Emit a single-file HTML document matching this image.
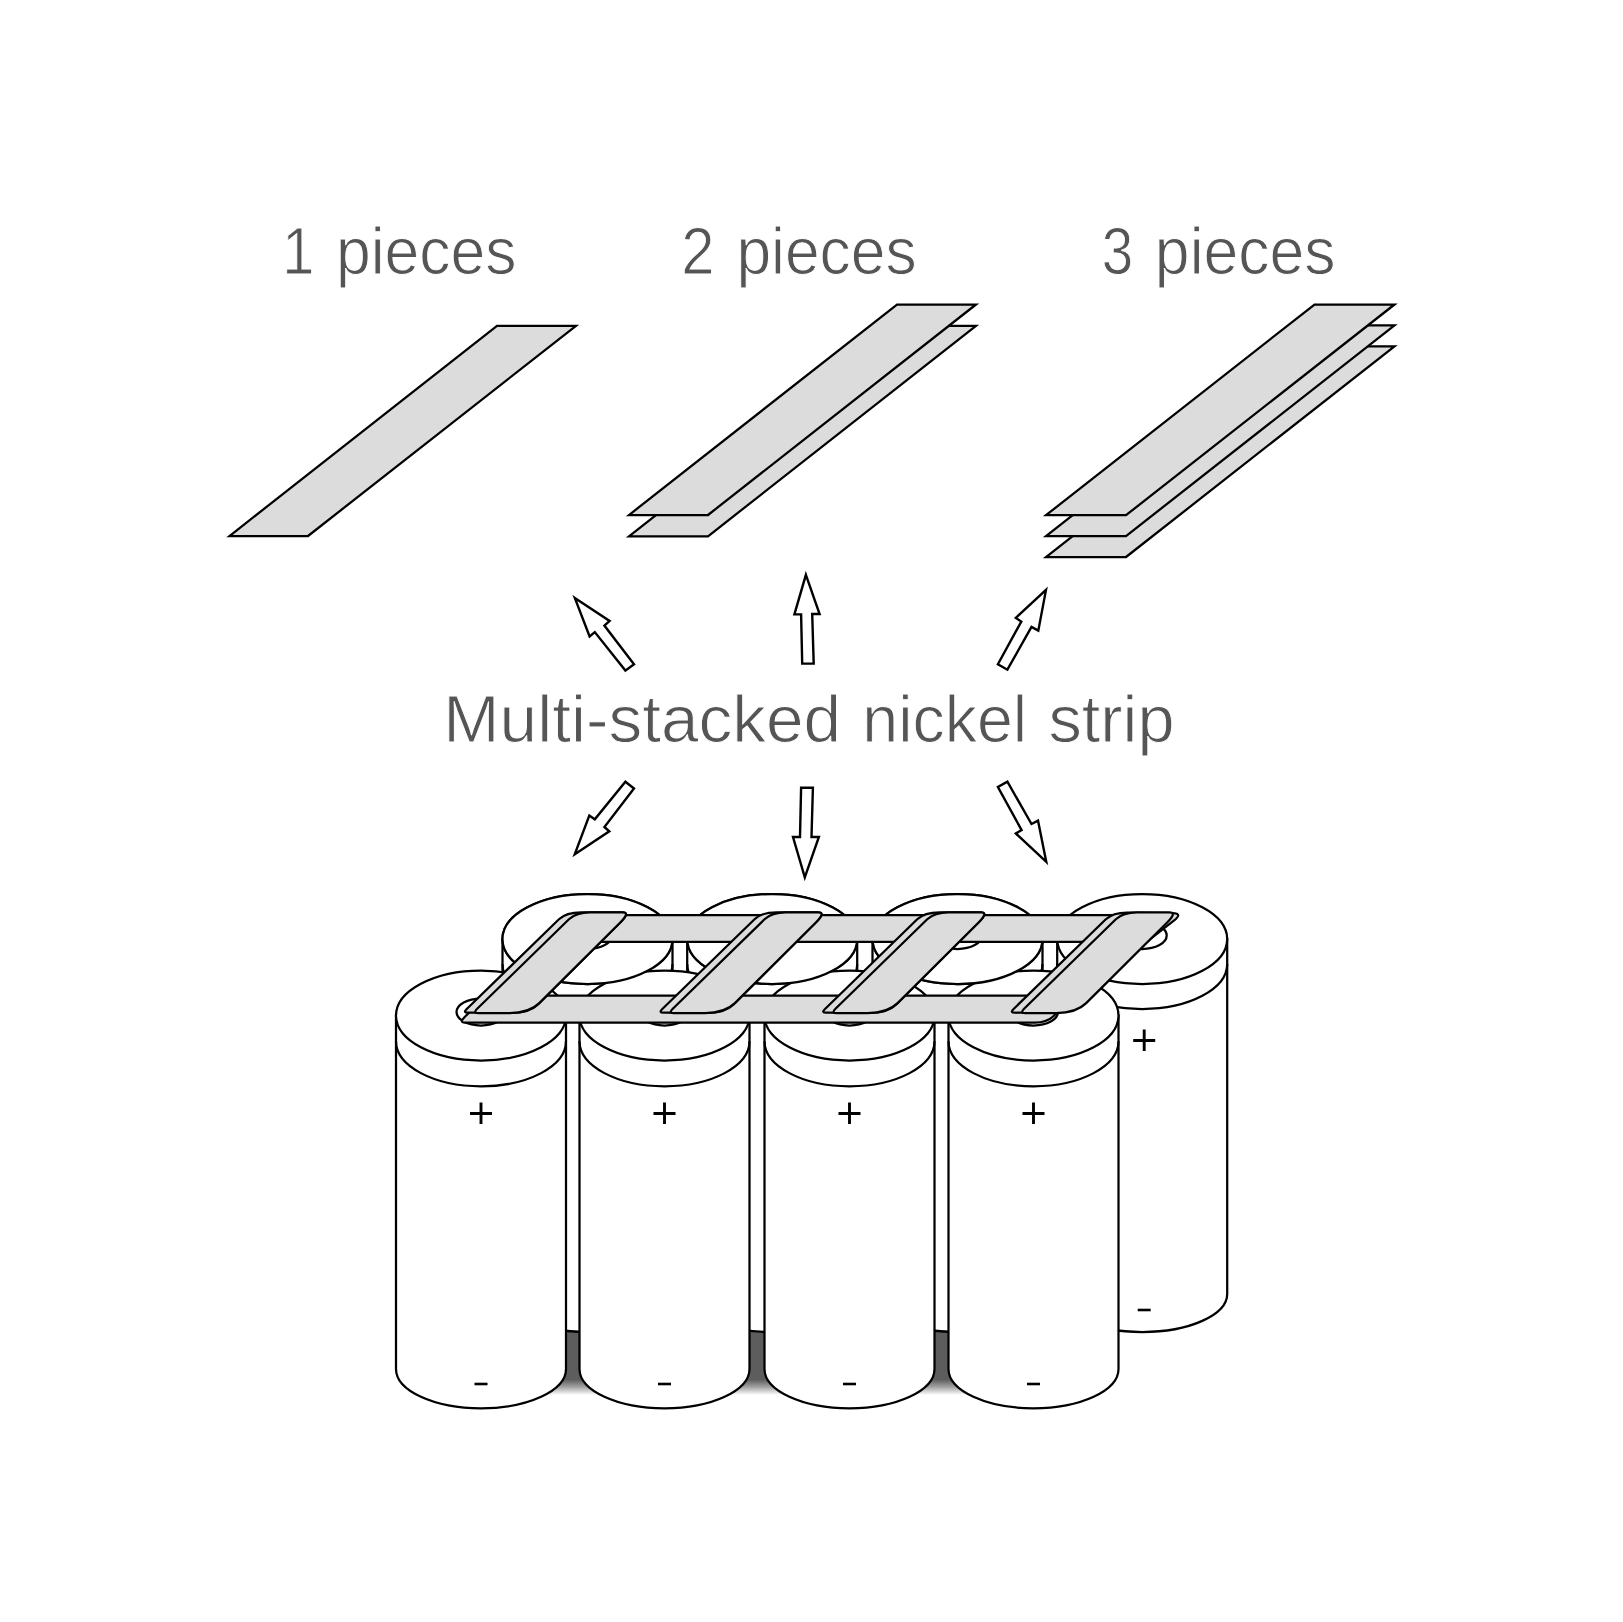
<!DOCTYPE html>
<html><head><meta charset="utf-8"><style>
html,body{margin:0;padding:0;background:#fff;}
svg{display:block;}
.t{font-family:"Liberation Sans", sans-serif;}
</style></head><body>
<svg width="1623" height="1622" viewBox="0 0 1623 1622">
<rect width="1623" height="1622" fill="#fff"/>
<text x="282.25" y="274.2" textLength="32.21" lengthAdjust="spacingAndGlyphs" class="t" font-size="67" fill="#555555" stroke="#fff" stroke-width="1.0">1</text>
<text x="335.88" y="274.2" textLength="180.66" lengthAdjust="spacingAndGlyphs" class="t" font-size="67" fill="#555555" stroke="#fff" stroke-width="1.0">pieces</text>
<text x="681.18" y="274.2" textLength="33.25" lengthAdjust="spacingAndGlyphs" class="t" font-size="67" fill="#555555" stroke="#fff" stroke-width="1.0">2</text>
<text x="736.39" y="274.2" textLength="180.18" lengthAdjust="spacingAndGlyphs" class="t" font-size="67" fill="#555555" stroke="#fff" stroke-width="1.0">pieces</text>
<text x="1101.80" y="274.2" textLength="31.52" lengthAdjust="spacingAndGlyphs" class="t" font-size="67" fill="#555555" stroke="#fff" stroke-width="1.0">3</text>
<text x="1154.86" y="274.2" textLength="180.70" lengthAdjust="spacingAndGlyphs" class="t" font-size="67" fill="#555555" stroke="#fff" stroke-width="1.0">pieces</text>
<text x="443.38" y="741.9" textLength="397.73" lengthAdjust="spacingAndGlyphs" class="t" font-size="67" fill="#555555" stroke="#fff" stroke-width="1.0">Multi-stacked</text>
<text x="862.32" y="741.9" textLength="164.86" lengthAdjust="spacingAndGlyphs" class="t" font-size="67" fill="#555555" stroke="#fff" stroke-width="1.0">nickel</text>
<text x="1048.44" y="741.9" textLength="126.14" lengthAdjust="spacingAndGlyphs" class="t" font-size="67" fill="#555555" stroke="#fff" stroke-width="1.0">strip</text>
<polygon points="497.0,325.8 576.0,325.8 308.0,536.0 229.5,536.0" fill="#dcdcdc" stroke="#000" stroke-width="2.25" stroke-linejoin="miter" stroke-miterlimit="10"/>
<polygon points="897.0,325.8 976.0,325.8 708.0,536.3 629.0,536.3" fill="#dcdcdc" stroke="#000" stroke-width="2.25" stroke-linejoin="miter" stroke-miterlimit="10"/>
<polygon points="897.0,304.5 976.0,304.5 708.0,515.0 629.0,515.0" fill="#dcdcdc" stroke="#000" stroke-width="2.25" stroke-linejoin="miter" stroke-miterlimit="10"/>
<polygon points="1314.5,346.3 1394.5,346.3 1126.0,557.0 1046.0,557.0" fill="#dcdcdc" stroke="#000" stroke-width="2.25" stroke-linejoin="miter" stroke-miterlimit="10"/>
<polygon points="1314.5,325.4 1394.5,325.4 1126.0,536.1 1046.0,536.1" fill="#dcdcdc" stroke="#000" stroke-width="2.25" stroke-linejoin="miter" stroke-miterlimit="10"/>
<polygon points="1314.5,304.5 1394.5,304.5 1126.0,515.2 1046.0,515.2" fill="#dcdcdc" stroke="#000" stroke-width="2.25" stroke-linejoin="miter" stroke-miterlimit="10"/>
<polygon points="574.8,597.9 609.6,621.0 604.4,625.6 634.0,664.2 625.4,670.6 594.8,632.1 589.6,636.4" fill="#fff" stroke="#000" stroke-width="2.4" stroke-linejoin="miter" stroke-miterlimit="10"/>
<polygon points="805.9,574.8 819.6,614.0 812.2,614.0 813.7,663.6 802.2,663.6 801.1,614.4 794.4,614.4" fill="#fff" stroke="#000" stroke-width="2.4" stroke-linejoin="miter" stroke-miterlimit="10"/>
<polygon points="1046.0,589.9 1038.3,630.6 1031.5,626.9 1007.4,669.7 997.9,664.2 1021.3,621.6 1015.8,617.9" fill="#fff" stroke="#000" stroke-width="2.4" stroke-linejoin="miter" stroke-miterlimit="10"/>
<polygon points="574.8,854.2 609.3,831.3 604.4,827.0 634.0,788.5 625.4,781.7 594.8,819.3 589.3,815.6" fill="#fff" stroke="#000" stroke-width="2.4" stroke-linejoin="miter" stroke-miterlimit="10"/>
<polygon points="804.8,877.3 818.9,837.0 811.5,837.0 812.9,787.8 801.1,787.8 800.0,837.0 793.0,837.0" fill="#fff" stroke="#000" stroke-width="2.4" stroke-linejoin="miter" stroke-miterlimit="10"/>
<polygon points="1046.3,861.9 1038.0,820.6 1031.5,824.0 1007.4,781.7 997.9,787.0 1021.6,830.1 1015.8,833.5" fill="#fff" stroke="#000" stroke-width="2.4" stroke-linejoin="miter" stroke-miterlimit="10"/>
<defs><linearGradient id="shade" gradientUnits="userSpaceOnUse" x1="0" y1="1325" x2="0" y2="1395"><stop offset="0" stop-color="#5d5d5d"/><stop offset="0.78" stop-color="#5d5d5d"/><stop offset="0.88" stop-color="#5d5d5d" stop-opacity="0.6"/><stop offset="1" stop-color="#5d5d5d" stop-opacity="0"/></linearGradient></defs>
<rect x="546" y="1325" width="53.5" height="71" fill="url(#shade)"/>
<rect x="729.5" y="1325" width="55.0" height="71" fill="url(#shade)"/>
<rect x="914.5" y="1325" width="54.0" height="71" fill="url(#shade)"/>
<path d="M502.5,939 L502.5,1294 A85,38 0 0 0 672.5,1294 L672.5,939 Z" fill="#fff" stroke="#000" stroke-width="2.25"/>
<ellipse cx="587.5" cy="939" rx="85" ry="45" fill="#fff" stroke="#000" stroke-width="2.25"/>
<path d="M502.5,964 A85,45 0 0 0 672.5,964" fill="none" stroke="#000" stroke-width="2.25"/>
<ellipse cx="587.5" cy="935.5" rx="24.5" ry="13.5" fill="#fff" stroke="#000" stroke-width="2.25"/>
<path d="M687.2,939 L687.2,1294 A85,38 0 0 0 857.2,1294 L857.2,939 Z" fill="#fff" stroke="#000" stroke-width="2.25"/>
<ellipse cx="772.2" cy="939" rx="85" ry="45" fill="#fff" stroke="#000" stroke-width="2.25"/>
<path d="M687.2,964 A85,45 0 0 0 857.2,964" fill="none" stroke="#000" stroke-width="2.25"/>
<ellipse cx="772.2" cy="935.5" rx="24.5" ry="13.5" fill="#fff" stroke="#000" stroke-width="2.25"/>
<path d="M872.5,939 L872.5,1294 A85,38 0 0 0 1042.5,1294 L1042.5,939 Z" fill="#fff" stroke="#000" stroke-width="2.25"/>
<ellipse cx="957.5" cy="939" rx="85" ry="45" fill="#fff" stroke="#000" stroke-width="2.25"/>
<path d="M872.5,964 A85,45 0 0 0 1042.5,964" fill="none" stroke="#000" stroke-width="2.25"/>
<ellipse cx="957.5" cy="935.5" rx="24.5" ry="13.5" fill="#fff" stroke="#000" stroke-width="2.25"/>
<path d="M1057.2,939 L1057.2,1294 A85,38 0 0 0 1227.2,1294 L1227.2,939 Z" fill="#fff" stroke="#000" stroke-width="2.25"/>
<ellipse cx="1142.2" cy="939" rx="85" ry="45" fill="#fff" stroke="#000" stroke-width="2.25"/>
<path d="M1057.2,964 A85,45 0 0 0 1227.2,964" fill="none" stroke="#000" stroke-width="2.25"/>
<ellipse cx="1142.2" cy="935.5" rx="24.5" ry="13.5" fill="#fff" stroke="#000" stroke-width="2.25"/>
<path d="M1133.2,1040.5 H1155.2 M1144.2,1029.5 V1051.0" stroke="#000" stroke-width="2.9" fill="none"/>
<path d="M1137.7,1310 H1150.7" stroke="#000" stroke-width="2.6" fill="none"/>
<path d="M396,1015.5 L396,1369 A85,39.3 0 0 0 566,1369 L566,1015.5 Z" fill="#fff" stroke="#000" stroke-width="2.25"/>
<ellipse cx="481" cy="1015.5" rx="85" ry="45" fill="#fff" stroke="#000" stroke-width="2.25"/>
<path d="M396,1041.3 A85,45 0 0 0 566,1041.3" fill="none" stroke="#000" stroke-width="2.25"/>
<ellipse cx="481" cy="1012.0" rx="24.5" ry="13.5" fill="#fff" stroke="#000" stroke-width="2.25"/>
<path d="M470,1113.5 H492 M481,1102.5 V1124.0" stroke="#000" stroke-width="2.9" fill="none"/>
<path d="M474.5,1384 H487.5" stroke="#000" stroke-width="2.6" fill="none"/>
<path d="M579.5,1015.5 L579.5,1369 A85,39.3 0 0 0 749.5,1369 L749.5,1015.5 Z" fill="#fff" stroke="#000" stroke-width="2.25"/>
<ellipse cx="664.5" cy="1015.5" rx="85" ry="45" fill="#fff" stroke="#000" stroke-width="2.25"/>
<path d="M579.5,1041.3 A85,45 0 0 0 749.5,1041.3" fill="none" stroke="#000" stroke-width="2.25"/>
<ellipse cx="664.5" cy="1012.0" rx="24.5" ry="13.5" fill="#fff" stroke="#000" stroke-width="2.25"/>
<path d="M653.5,1113.5 H675.5 M664.5,1102.5 V1124.0" stroke="#000" stroke-width="2.9" fill="none"/>
<path d="M658.0,1384 H671.0" stroke="#000" stroke-width="2.6" fill="none"/>
<path d="M764.5,1015.5 L764.5,1369 A85,39.3 0 0 0 934.5,1369 L934.5,1015.5 Z" fill="#fff" stroke="#000" stroke-width="2.25"/>
<ellipse cx="849.5" cy="1015.5" rx="85" ry="45" fill="#fff" stroke="#000" stroke-width="2.25"/>
<path d="M764.5,1041.3 A85,45 0 0 0 934.5,1041.3" fill="none" stroke="#000" stroke-width="2.25"/>
<ellipse cx="849.5" cy="1012.0" rx="24.5" ry="13.5" fill="#fff" stroke="#000" stroke-width="2.25"/>
<path d="M838.5,1113.5 H860.5 M849.5,1102.5 V1124.0" stroke="#000" stroke-width="2.9" fill="none"/>
<path d="M843.0,1384 H856.0" stroke="#000" stroke-width="2.6" fill="none"/>
<path d="M948.5,1015.5 L948.5,1369 A85,39.3 0 0 0 1118.5,1369 L1118.5,1015.5 Z" fill="#fff" stroke="#000" stroke-width="2.25"/>
<ellipse cx="1033.5" cy="1015.5" rx="85" ry="45" fill="#fff" stroke="#000" stroke-width="2.25"/>
<path d="M948.5,1041.3 A85,45 0 0 0 1118.5,1041.3" fill="none" stroke="#000" stroke-width="2.25"/>
<ellipse cx="1033.5" cy="1012.0" rx="24.5" ry="13.5" fill="#fff" stroke="#000" stroke-width="2.25"/>
<path d="M1022.5,1113.5 H1044.5 M1033.5,1102.5 V1124.0" stroke="#000" stroke-width="2.9" fill="none"/>
<path d="M1027.0,1384 H1040.0" stroke="#000" stroke-width="2.6" fill="none"/>
<ellipse cx="587.5" cy="939" rx="85" ry="45" fill="#fff" stroke="#000" stroke-width="2.25"/>
<ellipse cx="587.5" cy="935.5" rx="24.5" ry="13.5" fill="#fff" stroke="#000" stroke-width="2.25"/>
<ellipse cx="772.2" cy="939" rx="85" ry="45" fill="#fff" stroke="#000" stroke-width="2.25"/>
<ellipse cx="772.2" cy="935.5" rx="24.5" ry="13.5" fill="#fff" stroke="#000" stroke-width="2.25"/>
<ellipse cx="957.5" cy="939" rx="85" ry="45" fill="#fff" stroke="#000" stroke-width="2.25"/>
<ellipse cx="957.5" cy="935.5" rx="24.5" ry="13.5" fill="#fff" stroke="#000" stroke-width="2.25"/>
<path d="M563.00,941.90 L1104.00,941.90 Q1112.00,941.90 1116.27,937.68 L1137.11,917.11 Q1139.25,915.00 1136.25,915.00 L590.25,915.00 Q587.25,915.00 585.11,917.11 L562.13,939.79 Q560.00,941.90 563.00,941.90 Z" fill="#dcdcdc" stroke="#000" stroke-width="2.25" stroke-linejoin="round"/>
<path d="M465.00,1022.60 L1035.00,1022.60 Q1047.00,1022.60 1053.40,1016.28 L1072.22,997.71 Q1074.35,995.60 1071.35,995.60 L489.35,995.60 Q486.35,995.60 484.22,997.71 L464.69,1016.98 Q459.00,1022.60 465.00,1022.60 Z" fill="#dcdcdc" stroke="#000" stroke-width="2.25" stroke-linejoin="round"/>
<path d="M467.88,1012.72 L511.38,1012.92 Q529.38,1013.00 537.88,1004.53 L620.48,922.18 Q630.40,912.30 622.40,912.30 L581.10,912.30 Q566.10,912.30 558.93,919.27 L466.47,1009.21 Q462.88,1012.70 467.88,1012.72 Z" fill="#dcdcdc" stroke="#000" stroke-width="2.25" stroke-linejoin="round"/>
<path d="M477.88,1013.00 L509.38,1013.00 Q529.38,1013.00 539.30,1003.12 L620.48,922.18 Q630.40,912.30 622.40,912.30 L590.10,912.30 Q576.10,912.30 568.94,919.28 L477.18,1008.81 Q472.88,1013.00 477.88,1013.00 Z" fill="#dcdcdc" stroke="#000" stroke-width="2.25" stroke-linejoin="round"/>
<path d="M663.48,1012.72 L706.98,1012.92 Q724.98,1013.00 733.48,1004.53 L816.08,922.18 Q826.00,912.30 818.00,912.30 L776.70,912.30 Q761.70,912.30 754.53,919.27 L662.07,1009.21 Q658.48,1012.70 663.48,1012.72 Z" fill="#dcdcdc" stroke="#000" stroke-width="2.25" stroke-linejoin="round"/>
<path d="M673.48,1013.00 L704.98,1013.00 Q724.98,1013.00 734.90,1003.12 L816.08,922.18 Q826.00,912.30 818.00,912.30 L785.70,912.30 Q771.70,912.30 764.54,919.28 L672.78,1008.81 Q668.48,1013.00 673.48,1013.00 Z" fill="#dcdcdc" stroke="#000" stroke-width="2.25" stroke-linejoin="round"/>
<path d="M826.18,1012.72 L869.68,1012.92 Q887.68,1013.00 896.18,1004.53 L978.78,922.18 Q988.70,912.30 980.70,912.30 L939.40,912.30 Q924.40,912.30 917.23,919.27 L824.77,1009.21 Q821.18,1012.70 826.18,1012.72 Z" fill="#dcdcdc" stroke="#000" stroke-width="2.25" stroke-linejoin="round"/>
<path d="M836.18,1013.00 L867.68,1013.00 Q887.68,1013.00 897.60,1003.12 L978.78,922.18 Q988.70,912.30 980.70,912.30 L948.40,912.30 Q934.40,912.30 927.24,919.28 L835.48,1008.81 Q831.18,1013.00 836.18,1013.00 Z" fill="#dcdcdc" stroke="#000" stroke-width="2.25" stroke-linejoin="round"/>
<path d="M1014.78,1012.73 L1052.67,1012.98 Q1055.67,1013.00 1058.03,1011.15 L1173.84,920.69 Q1183.30,913.30 1172.30,913.14 L1128.00,912.51 Q1113.00,912.30 1105.83,919.27 L1013.37,1009.21 Q1009.78,1012.70 1014.78,1012.73 Z" fill="#dcdcdc" stroke="#000" stroke-width="2.25" stroke-linejoin="round"/>
<path d="M1024.78,1013.00 L1056.28,1013.00 Q1076.28,1013.00 1086.20,1003.12 L1167.38,922.18 Q1177.30,912.30 1169.30,912.30 L1137.00,912.30 Q1123.00,912.30 1115.84,919.28 L1024.08,1008.81 Q1019.78,1013.00 1024.78,1013.00 Z" fill="#dcdcdc" stroke="#000" stroke-width="2.25" stroke-linejoin="round"/>
</svg>
</body></html>
